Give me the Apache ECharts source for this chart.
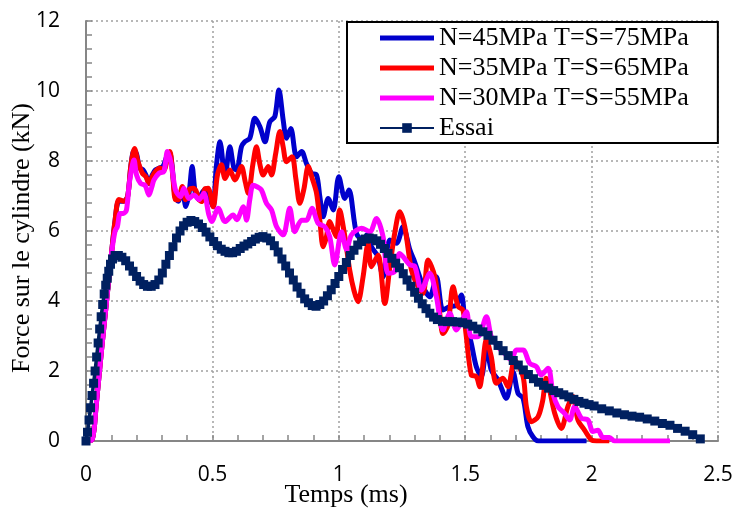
<!DOCTYPE html>
<html>
<head>
<meta charset="utf-8">
<script src="https://cdn.jsdelivr.net/npm/echarts@6/dist/echarts.min.js"></script>
<style>
html,body{margin:0;padding:0;background:#fff;}
#chart{width:737px;height:519px;}
</style>
</head>
<body>
<div id="chart"></div>
<script>
// Series names
const seriesNames = ['N=45MPa T=S=75MPa', 'N=35MPa T=S=65MPa', 'N=30MPa T=S=55MPa', 'Essai'];

// N=45MPa T=S=75MPa (blue)
const tN45 = [0,0.025,0.04,0.06,0.08,0.1,0.115,0.13,0.15,0.165,0.178,0.19,0.2,0.212,0.225,0.237,0.25,0.262,0.275,0.29,0.305,0.318,0.33,0.34,0.352,0.365,0.38,0.395,0.408,0.42,0.432,0.447,0.46,0.475,0.49,0.503,0.515,0.53,0.55,0.569,0.585,0.596,0.615,0.628,0.648,0.668,0.688,0.708,0.727,0.747,0.763,0.78,0.793,0.81,0.833,0.853,0.872,0.892,0.912,0.925,0.938,0.958,0.978,1.0,1.024,1.04,1.07,1.096,1.112,1.129,1.155,1.175,1.202,1.228,1.254,1.281,1.3,1.32,1.34,1.36,1.386,1.412,1.439,1.465,1.485,1.498,1.524,1.544,1.564,1.584,1.603,1.63,1.663,1.689,1.709,1.729,1.748,1.768,1.79,1.98];
const fN45 = [0,0.05,1.0,2.5,3.9,5.3,6.3,6.85,6.85,7.0,7.9,8.3,8.2,7.8,7.75,7.6,7.35,7.6,7.75,7.8,7.85,8.1,8.25,7.9,7.0,6.85,7.2,6.7,7.1,7.84,7.1,6.9,7.1,7.2,6.9,6.69,7.8,8.55,7.55,8.41,7.8,7.74,8.41,8.55,8.65,9.22,8.98,8.55,9.12,9.27,10.03,9.17,8.65,8.93,8.12,8.27,7.93,7.65,7.6,6.98,6.41,6.93,6.6,7.55,6.93,7.17,5.93,5.74,5.9,5.55,5.27,4.69,5.74,5.65,6.12,5.46,5.12,4.69,4.31,4.12,4.69,3.74,3.84,3.88,4.17,3.55,2.79,2.12,1.84,2.69,2.03,1.74,1.22,1.98,1.36,1.22,0.41,0.12,0,0];

// N=35MPa T=S=65MPa (red)
const tN35 = [0,0.025,0.04,0.06,0.08,0.1,0.115,0.13,0.15,0.165,0.178,0.192,0.205,0.223,0.237,0.249,0.262,0.275,0.292,0.308,0.32,0.332,0.343,0.354,0.365,0.381,0.394,0.41,0.424,0.435,0.447,0.457,0.47,0.483,0.503,0.52,0.536,0.55,0.569,0.589,0.615,0.63,0.642,0.66,0.674,0.688,0.701,0.721,0.734,0.75,0.767,0.78,0.793,0.815,0.83,0.846,0.862,0.879,0.895,0.912,0.925,0.938,0.95,0.964,0.98,0.99,1.003,1.024,1.043,1.06,1.076,1.096,1.116,1.129,1.155,1.182,1.202,1.221,1.241,1.261,1.287,1.307,1.333,1.353,1.38,1.4,1.412,1.432,1.452,1.472,1.491,1.503,1.524,1.544,1.557,1.584,1.603,1.623,1.649,1.669,1.696,1.729,1.742,1.762,1.788,1.807,1.82,1.854,1.88,1.906,1.926,1.946,1.972,1.999,2.02,2.07];
const fN35 = [0,0.05,1.0,2.5,3.9,5.3,6.3,6.9,6.85,7.0,7.9,8.36,8.0,7.65,7.55,7.36,7.55,7.7,7.8,7.74,8.0,8.27,7.6,6.89,6.89,7.27,6.89,7.2,7.22,7.15,6.9,6.84,7.2,7.22,6.69,7.6,7.89,7.5,7.74,7.46,7.84,7.4,7.08,7.9,8.41,7.9,7.6,7.84,7.6,8.2,8.84,8.4,7.98,8.12,7.5,6.79,7.2,7.84,7.5,7.08,6.3,5.55,5.8,6.27,6.0,5.84,6.6,5.84,4.89,4.3,3.98,4.69,5.65,4.98,5.31,3.93,4.98,5.93,6.55,6.12,4.89,4.5,4.22,5.17,4.69,3.6,3.07,3.31,4.41,3.84,3.74,3.07,1.89,1.84,1.55,2.89,2.41,1.65,1.79,1.55,2.31,1.84,0.98,0.55,0.69,1.17,1.79,0.79,0.36,0.98,1.27,0.6,0.31,0.03,0,0];

// N=30MPa T=S=55MPa (magenta)
const tN30 = [0,0.025,0.04,0.06,0.08,0.1,0.115,0.124,0.135,0.148,0.16,0.172,0.19,0.2,0.216,0.234,0.249,0.26,0.269,0.289,0.308,0.322,0.337,0.354,0.374,0.387,0.407,0.427,0.447,0.466,0.486,0.497,0.523,0.55,0.582,0.596,0.622,0.635,0.648,0.661,0.68,0.694,0.714,0.734,0.754,0.78,0.806,0.826,0.853,0.872,0.894,0.918,0.945,0.964,0.984,1.011,1.031,1.05,1.09,1.123,1.149,1.175,1.195,1.221,1.241,1.281,1.3,1.327,1.36,1.386,1.412,1.439,1.465,1.485,1.505,1.524,1.55,1.584,1.603,1.63,1.656,1.683,1.702,1.729,1.755,1.782,1.8,1.828,1.847,1.867,1.893,1.913,1.933,1.96,1.986,2.005,2.025,2.045,2.071,2.09,2.31];
const fN30 = [0,0.05,1.0,2.5,3.9,5.3,6.0,6.12,6.5,6.5,6.6,7.4,8.03,7.6,7.36,7.3,7.03,7.25,7.46,7.65,7.7,8.27,7.93,7.17,6.98,7.22,6.93,7.03,6.89,7.08,6.46,6.27,6.65,6.27,6.46,6.32,6.69,6.31,6.9,7.31,7.25,7.17,6.79,6.6,6.12,5.89,6.65,5.98,6.31,6.31,6.65,6.22,6.12,5.84,5.03,5.98,5.46,5.89,6.08,5.98,6.36,5.84,4.79,4.84,5.36,5.03,5.0,4.31,4.79,4.12,3.17,3.65,3.17,3.4,3.69,2.98,2.98,3.55,2.98,2.69,2.5,2.31,2.6,2.6,2.22,2.12,1.89,2.08,1.36,0.98,0.79,0.6,0.98,0.65,0.6,0.27,0.31,0.1,0.1,0,0];

// Essai (measured)
const tEssai = [0,0.006,0.012,0.018,0.024,0.03,0.036,0.042,0.048,0.054,0.06,0.066,0.072,0.078,0.084,0.09,0.097,0.105,0.115,0.128,0.142,0.157,0.172,0.186,0.2,0.214,0.228,0.243,0.258,0.273,0.288,0.302,0.316,0.33,0.344,0.358,0.372,0.386,0.4,0.415,0.43,0.445,0.46,0.475,0.49,0.505,0.52,0.535,0.55,0.565,0.58,0.595,0.61,0.625,0.64,0.655,0.67,0.685,0.7,0.715,0.73,0.745,0.76,0.775,0.79,0.805,0.82,0.835,0.85,0.865,0.88,0.895,0.91,0.925,0.94,0.955,0.97,0.985,1.0,1.015,1.03,1.045,1.06,1.075,1.09,1.105,1.12,1.135,1.15,1.165,1.18,1.195,1.21,1.225,1.24,1.255,1.27,1.285,1.3,1.315,1.33,1.345,1.36,1.375,1.39,1.41,1.43,1.45,1.47,1.49,1.51,1.53,1.55,1.57,1.59,1.61,1.63,1.65,1.67,1.69,1.71,1.73,1.75,1.77,1.79,1.81,1.83,1.85,1.87,1.89,1.91,1.93,1.95,1.97,1.99,2.01,2.04,2.07,2.1,2.13,2.16,2.19,2.22,2.25,2.28,2.31,2.34,2.37,2.4,2.43];
const fEssai = [0,0.25,0.6,0.95,1.3,1.65,2.0,2.4,2.8,3.2,3.55,3.9,4.2,4.45,4.65,4.85,5.05,5.2,5.3,5.3,5.25,5.15,5.0,4.85,4.7,4.57,4.47,4.42,4.42,4.47,4.6,4.8,5.05,5.3,5.55,5.8,6.0,6.15,6.25,6.3,6.27,6.2,6.1,5.97,5.83,5.7,5.58,5.48,5.42,5.38,5.38,5.42,5.5,5.57,5.63,5.7,5.77,5.82,5.84,5.8,5.72,5.58,5.4,5.2,5.0,4.8,4.6,4.4,4.22,4.06,3.95,3.87,3.85,3.9,4.0,4.15,4.32,4.5,4.7,4.9,5.1,5.3,5.45,5.6,5.7,5.77,5.8,5.78,5.72,5.62,5.5,5.36,5.22,5.08,4.95,4.78,4.6,4.42,4.25,4.08,3.92,3.78,3.65,3.54,3.47,3.42,3.41,3.41,3.4,3.38,3.34,3.28,3.2,3.12,3.02,2.88,2.73,2.58,2.44,2.3,2.17,2.03,1.9,1.78,1.68,1.59,1.51,1.44,1.38,1.32,1.26,1.19,1.13,1.08,1.04,1.0,0.92,0.86,0.8,0.75,0.71,0.68,0.63,0.57,0.5,0.45,0.36,0.28,0.18,0.06];

// Axis ticks
const xTicks = [0, 0.5, 1, 1.5, 2, 2.5];
const yTicks = [0, 2, 4, 6, 8, 10, 12];

const zip = (a, b) => a.map((v, i) => [v, b[i]]);

const colors = ['#0000CC', '#FF0000', '#FF00FF', '#002060'];
const serif = '"Liberation Serif", "Times New Roman", serif';
const sans = '"Open Sans", "Noto Sans", sans-serif';

// legend icon for plain lines: thin bar centred in a 54x12 box
const lineIcon = 'path://M0,0H0.01V12H0Z M0,3.6H54V8.4H0Z';

const chart = echarts.init(document.getElementById('chart'), null, {renderer: 'canvas'});

function simSeries(name, t, f, color) {
  return {
    name: name,
    type: 'line',
    data: zip(t, f),
    symbol: 'none',
    smooth: 0.3,
    lineStyle: {color: color, width: 5},
    itemStyle: {color: color},
    animation: false
  };
}

const option = {
  animation: false,
  backgroundColor: '#ffffff',
  grid: {left: 86, right: 19, top: 21, bottom: 78, containLabel: false, outerBoundsMode: 'none'},
  legend: {
    orient: 'vertical',
    left: 347,
    top: 22,
    padding: [3, 29, 2, 32],
    itemGap: 4,
    itemWidth: 54,
    itemHeight: 12,
    backgroundColor: '#ffffff',
    borderColor: '#000000',
    borderWidth: 2,
    borderRadius: 0,
    textStyle: {fontFamily: serif, fontSize: 26, color: '#000', lineHeight: 26},
    data: [
      {name: seriesNames[0], icon: lineIcon, itemStyle: {color: colors[0]}},
      {name: seriesNames[1], icon: lineIcon, itemStyle: {color: colors[1]}},
      {name: seriesNames[2], icon: lineIcon, itemStyle: {color: colors[2]}},
      {name: seriesNames[3]}
    ]
  },
  xAxis: {
    type: 'value',
    min: xTicks[0],
    max: xTicks[xTicks.length - 1],
    interval: 0.5,
    name: 'Temps (ms)',
    nameLocation: 'middle',
    nameGap: 41,
    nameMoveOverlap: false,
    nameTextStyle: {fontFamily: serif, fontSize: 26, color: '#000', padding: [0, 112, 0, 0]},
    axisLine: {show: true, lineStyle: {color: '#868686', width: 2}},
    axisTick: {show: true, inside: true, length: 6, lineStyle: {color: '#868686', width: 1.5}},
    minorTick: {show: true, splitNumber: 5, length: 6, lineStyle: {color: '#868686', width: 1.5}},
    axisLabel: {fontFamily: sans, fontSize: 21, color: '#000', margin: 24,
      formatter: v => String(v)},
    splitLine: {show: true, lineStyle: {color: '#A0A0A0', type: [2, 3], width: 1.5}}
  },
  yAxis: {
    type: 'value',
    min: yTicks[0],
    max: yTicks[yTicks.length - 1],
    interval: 2,
    name: 'Force sur le cylindre (kN)',
    nameLocation: 'middle',
    nameGap: 51,
    nameMoveOverlap: false,
    nameTextStyle: {fontFamily: serif, fontSize: 26, color: '#000', padding: [0, 14, 0, 0]},
    axisLine: {show: true, lineStyle: {color: '#868686', width: 2}},
    axisTick: {show: true, inside: true, length: 6, lineStyle: {color: '#868686', width: 1.5}},
    minorTick: {show: true, splitNumber: 5, length: 6, lineStyle: {color: '#868686', width: 1.5}},
    axisLabel: {fontFamily: sans, fontSize: 21, color: '#000', margin: 26},
    splitLine: {show: true, lineStyle: {color: '#A0A0A0', type: [2, 3], width: 1.5}}
  },
  series: [
    simSeries(seriesNames[0], tN45, fN45, colors[0]),
    simSeries(seriesNames[1], tN35, fN35, colors[1]),
    simSeries(seriesNames[2], tN30, fN30, colors[2]),
    {
      name: seriesNames[3],
      type: 'line',
      data: zip(tEssai, fEssai),
      symbol: 'rect',
      symbolSize: 9,
      showAllSymbol: true,
      smooth: false,
      lineStyle: {color: colors[3], width: 3.5},
      itemStyle: {color: colors[3]},
      animation: false
    }
  ]
};
chart.setOption(option);
</script>
</body>
</html>
